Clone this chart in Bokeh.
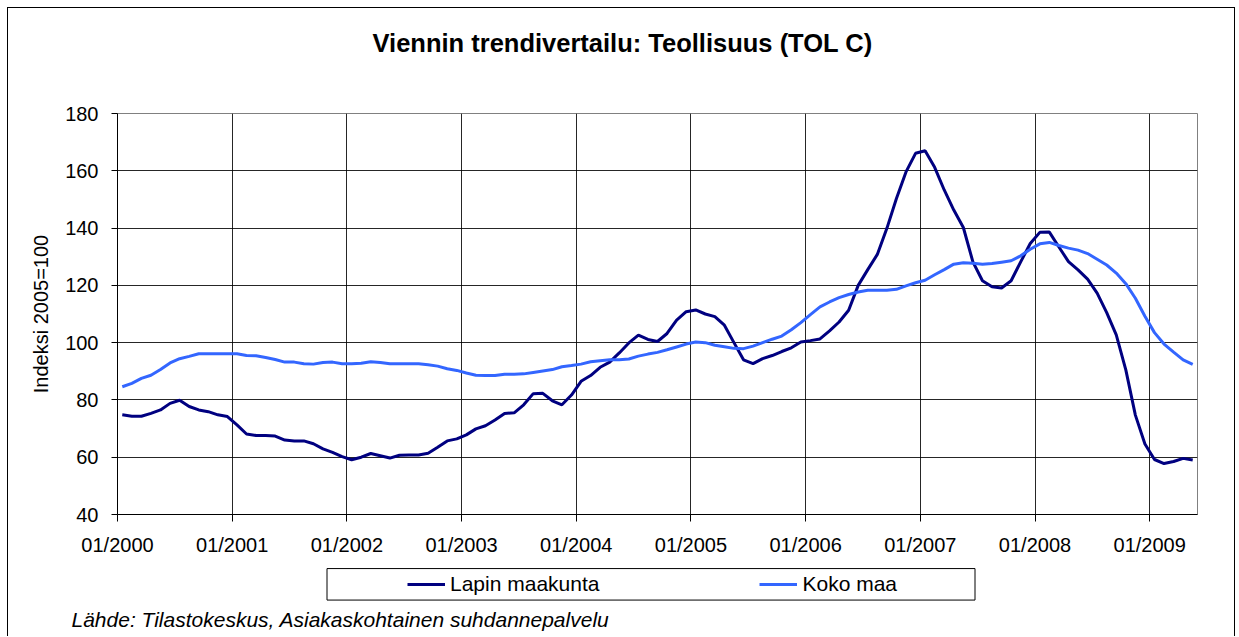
from bokeh.plotting import figure
from bokeh.layouts import column
from bokeh.models import (Range1d, FixedTicker, Legend, LegendItem, Title,
                          BoxAnnotation)
from bokeh.embed import file_html
from bokeh.resources import INLINE

# ---------------- data ----------------
tick_labels = ["01/2000", "01/2001", "01/2002", "01/2003", "01/2004",
               "01/2005", "01/2006", "01/2007", "01/2008", "01/2009"]

lapin_maakunta = [
    74.8, 74.3, 74.3, 75.3, 76.5, 78.8, 79.9, 77.7, 76.5, 75.9, 74.8, 74.2,   # 2000
    71.3, 68.1, 67.6, 67.6, 67.4, 66.0, 65.7, 65.7, 64.7, 62.9, 61.7, 60.2,   # 2001
    59.1, 60.0, 61.3, 60.5, 59.7, 60.7, 60.8, 60.8, 61.4, 63.5, 65.7, 66.4,   # 2002
    67.8, 69.9, 71.0, 73.0, 75.3, 75.5, 78.3, 82.2, 82.3, 79.7, 78.3, 81.7,   # 2003
    86.5, 88.5, 91.4, 93.2, 96.4, 99.9, 102.6, 101.1, 100.4, 103.2, 107.9, 110.8,  # 2004
    111.4, 110.0, 109.1, 106.1, 100.0, 94.0, 92.7, 94.4, 95.5, 96.9, 98.2, 100.2,  # 2005
    100.7, 101.3, 104.1, 107.2, 111.3, 120.0, 125.5, 130.8, 139.9, 150.3, 159.6, 166.1,  # 2006
    167.0, 161.2, 153.3, 146.3, 140.2, 128.2, 121.6, 119.5, 119.1, 121.6, 128.2, 134.6,  # 2007
    138.5, 138.6, 133.4, 128.3, 125.4, 122.2, 117.3, 110.5, 102.7, 90.5, 74.7, 64.6,     # 2008
    59.2, 57.8, 58.5, 59.6, 59.0,                                                      # 2009
]

koko_maa = [
    84.6, 85.8, 87.5, 88.6, 90.6, 92.9, 94.4, 95.2, 96.1, 96.1, 96.1, 96.1,   # 2000
    96.1, 95.5, 95.4, 94.8, 94.1, 93.2, 93.2, 92.6, 92.5, 93.1, 93.2, 92.6,   # 2001
    92.6, 92.8, 93.3, 93.1, 92.6, 92.6, 92.6, 92.6, 92.3, 91.8, 90.9, 90.3,   # 2002
    89.4, 88.6, 88.5, 88.5, 89.0, 89.0, 89.1, 89.6, 90.1, 90.6, 91.6, 92.0,   # 2003
    92.5, 93.3, 93.7, 94.0, 94.0, 94.3, 95.3, 96.0, 96.6, 97.5, 98.5, 99.5,   # 2004
    100.2, 100.0, 99.1, 98.6, 98.0, 97.9, 98.8, 100.0, 101.2, 102.3, 104.5, 107.0,  # 2005
    109.8, 112.5, 114.2, 115.7, 116.8, 117.7, 118.3, 118.3, 118.3, 118.6, 119.8, 120.9,  # 2006
    121.8, 123.7, 125.5, 127.4, 127.9, 127.7, 127.4, 127.6, 128.1, 128.6, 130.3, 132.6,  # 2007
    134.5, 135.0, 133.9, 133.0, 132.3, 131.1, 129.1, 127.1, 124.3, 120.6, 115.5, 109.2,  # 2008
    103.5, 99.5, 96.7, 94.0, 92.4,                                                     # 2009
]

series_names = ["Lapin maakunta", "Koko maa"]
series_colors = ["#000080", "#3366FF"]
title_text = "Viennin trendivertailu: Teollisuus (TOL C)"
y_label = "Indeksi 2005=100"
source_text = "Lähde: Tilastokeskus, Asiakaskohtainen suhdannepalvelu"

n_months = len(lapin_maakunta)
x_pos = [i + 0.5 for i in range(n_months)]
year_ticks = [12 * i for i in range(len(tick_labels))]

# ---------------- layout ----------------
FONT = "Liberation Sans"
W = 1228
ML, MR, MT = 109, 39, 105
FH = 401
H1 = 552                      # main chart canvas (page y 8 .. 560)
MB = H1 - MT - FH
H2 = 77                       # footer canvas (page y 560 .. 637)
BORDER = "1px solid black"
FRAME_L, FRAME_R = 8 + ML, 8 + W - MR     # page x of the frame edges
FOOT_TOP, FOOT_FRAME_BOTTOM = 560, 604    # page y of the footer frame

p = figure(width=W, height=H1, x_range=Range1d(0, n_months), y_range=Range1d(40, 180),
           output_backend="svg", toolbar_location=None,
           min_border_left=ML, min_border_right=MR,
           min_border_top=MT, min_border_bottom=MB)
p.margin = (7, 0, 0, 7)
p.styles = {"border-left": BORDER, "border-top": BORDER, "border-right": BORDER}
p.background_fill_color = "white"
p.border_fill_color = "white"
p.outline_line_color = "#808080"
p.outline_line_width = 1

# title (outermost above) + spacer (next to the frame)
p.title = Title(text=title_text, align="left", offset=255, vertical_align="middle",
                standoff=0, text_font=FONT, text_font_size="25.5px",
                text_font_style="bold", text_color="black")
p.add_layout(Title(text="\u00a0", text_font_size="10px", standoff=43), "above")

# grids
p.xgrid.ticker = FixedTicker(ticks=year_ticks)
p.ygrid.ticker = FixedTicker(ticks=list(range(40, 181, 20)))
for g in (p.xgrid, p.ygrid):
    g.grid_line_color = "#000000"
    g.grid_line_alpha = 0.85
    g.grid_line_width = 1

# x axis
xa = p.xaxis[0]
xa.ticker = FixedTicker(ticks=year_ticks)
xa.major_label_overrides = {t: lab for t, lab in zip(year_ticks, tick_labels)}
xa.major_tick_out = 7
xa.major_tick_in = 0
xa.minor_tick_line_color = None
xa.axis_line_color = "black"
xa.major_tick_line_color = "black"
xa.major_label_text_font = FONT
xa.major_label_text_font_size = "20px"
xa.major_label_text_color = "black"
xa.major_label_standoff = 12

# y axis
ya = p.yaxis[0]
ya.ticker = FixedTicker(ticks=list(range(40, 181, 20)))
ya.major_tick_out = 6
ya.major_tick_in = 0
ya.minor_tick_line_color = None
ya.axis_line_color = "black"
ya.major_tick_line_color = "black"
ya.major_label_text_font = FONT
ya.major_label_text_font_size = "20px"
ya.major_label_text_color = "black"
ya.major_label_standoff = 13
ya.axis_label = y_label
ya.axis_label_text_font = FONT
ya.axis_label_text_font_size = "20px"
ya.axis_label_text_font_style = "normal"
ya.axis_label_text_color = "black"
ya.axis_label_standoff = 10

# data lines
p.line(x_pos, lapin_maakunta, line_color=series_colors[0], line_width=3)
p.line(x_pos, koko_maa, line_color=series_colors[1], line_width=3)

# ---------------- footer: legend + source ----------------
# footer frame is aligned with the main frame horizontally; data units = page pixels
f = figure(width=W, height=H2, x_range=Range1d(FRAME_L, FRAME_R),
           y_range=Range1d(-FOOT_FRAME_BOTTOM, -FOOT_TOP),
           output_backend="svg", toolbar_location=None, title_location=None,
           x_axis_type=None, y_axis_type=None, min_border=0)
f.margin = (0, 0, 0, 7)
f.styles = {"border-left": BORDER, "border-right": BORDER}
f.xgrid.visible = False
f.ygrid.visible = False
f.outline_line_color = None
f.background_fill_color = "white"
f.border_fill_color = "white"

# legend swatches: renderers carrying the series styles, placed off the visible area
sw = [f.line([0, 1], [0, 0], line_color=c, line_width=3) for c in series_colors]
legend = Legend(items=[LegendItem(label=n, renderers=[r]) for n, r in zip(series_names, sw)],
                orientation="horizontal", location=(407 - FRAME_L, 5),
                glyph_width=38, glyph_height=20, label_standoff=5, spacing=160,
                padding=0, margin=0, border_line_color=None,
                background_fill_alpha=0,
                label_text_font=FONT, label_text_font_size="21px",
                label_text_color="black")
f.add_layout(legend, "center")
f.add_layout(BoxAnnotation(left=326.5, right=974.5, top=-569.5, bottom=-602.5,
                           fill_alpha=0, line_color="black", line_alpha=1,
                           line_width=1))

# source note in the footer's bottom panel
f.add_layout(Title(text=source_text, align="left", offset=71 - FRAME_L,
                   vertical_align="middle", standoff=10,
                   text_font=FONT, text_font_size="21px",
                   text_font_style="italic", text_color="black"), "below")

open("out.html", "w").write(file_html(column(p, f, spacing=0), INLINE))
